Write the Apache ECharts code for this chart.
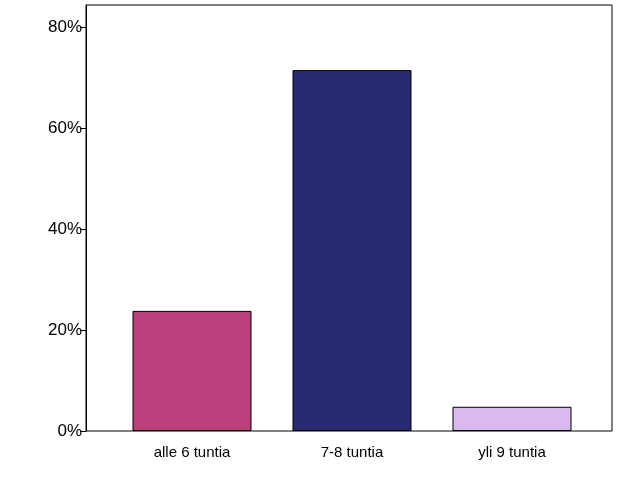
<!DOCTYPE html>
<html><head><meta charset="utf-8">
<script src="https://cdn.jsdelivr.net/npm/echarts@6/dist/echarts.min.js"></script>
<style>html,body{margin:0;padding:0;background:#fff}#c{width:626px;height:501px}</style>
</head><body><div id="c"></div>
<script>
const categories = ['alle 6 tuntia', '7-8 tuntia', 'yli 9 tuntia'];
const values = [23.8, 71.5, 4.8];
const colors = ['#BB3F7C', '#282A72', '#D9B9EF'];
const yMax = 84.4;
const chart = echarts.init(document.getElementById('c'));
chart.setOption({
  animation: false,
  grid: [
    {left: 86, right: 14, top: 5, bottom: 70, show: true, borderColor: '#000', borderWidth: 1, backgroundColor: 'transparent'},
    {left: 112, width: 480, top: 5, bottom: 70}
  ],
  xAxis: [
    {gridIndex: 0, type: 'value', show: false, min: 0, max: 1},
    {gridIndex: 1, type: 'category', data: categories, axisLine: {show: false}, axisTick: {show: false},
     axisLabel: {color: '#000', fontFamily: 'Liberation Sans, Arial', fontSize: 15, margin: 14}}
  ],
  yAxis: [
    {gridIndex: 0, type: 'value', min: 0, max: yMax, interval: 20, splitLine: {show: false},
     axisLine: {show: true, lineStyle: {color: '#000'}}, axisTick: {show: true, length: 6, lineStyle: {color: '#000'}},
     axisLabel: {color: '#000', fontFamily: 'Liberation Sans, Arial', fontSize: 17, formatter: v => v + '%', margin: 4,
       showMaxLabel: false}},
    {gridIndex: 1, type: 'value', min: 0, max: yMax, show: false}
  ],
  series: [{
    type: 'bar', xAxisIndex: 1, yAxisIndex: 1, barWidth: 119,
    data: values.map((v, i) => ({value: v, itemStyle: {color: colors[i], borderColor: '#000', borderWidth: 1}}))
  }]
});
</script></body></html>
